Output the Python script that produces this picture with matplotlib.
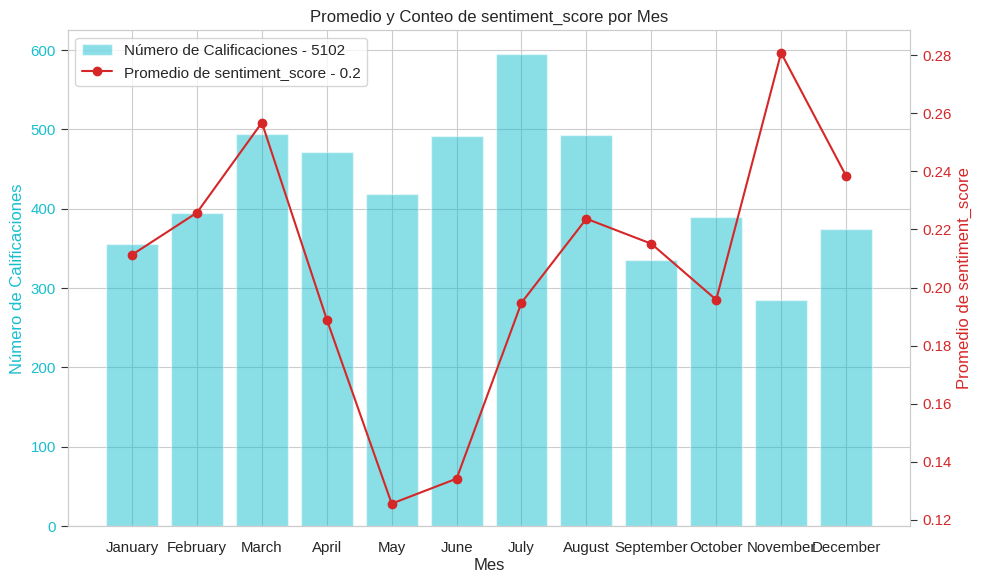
import matplotlib
matplotlib.use('Agg')
import matplotlib.pyplot as plt
import seaborn as sns
import numpy as np

# Data
meses = ['January', 'February', 'March', 'April', 'May', 'June',
         'July', 'August', 'September', 'October', 'November', 'December']
conteo = [356, 395, 494, 472, 419, 492, 595, 493, 336, 390, 285, 375]
promedio = [0.2113, 0.2258, 0.2568, 0.1890, 0.1256, 0.1342,
            0.1948, 0.2237, 0.2151, 0.1958, 0.2808, 0.2385]

sns.set_style('whitegrid')
plt.rcParams['font.family'] = ['Liberation Sans', 'DejaVu Sans']

total = sum(conteo)
media = round(float(np.mean(promedio)), 1)

fig, ax1 = plt.subplots(figsize=(9.83, 5.84), dpi=100)
x = np.arange(len(meses))

color1 = 'tab:cyan'
bars = ax1.bar(x, conteo, color=color1, alpha=0.5,
               label=f'Número de Calificaciones - {total}')
ax1.set_xlabel('Mes', fontsize=12, labelpad=2)
ax1.set_ylabel('Número de Calificaciones', color=color1, fontsize=12)
ax1.tick_params(axis='y', labelcolor=color1, length=5, color='#333333', labelsize=10.8)
ax1.tick_params(axis='x', labelsize=10.8, pad=7)
ax1.set_xticks(x)
ax1.set_xticklabels(meses)

ax2 = ax1.twinx()
color2 = 'tab:red'
line, = ax2.plot(x, promedio, color=color2, marker='o',
                 label=f'Promedio de sentiment_score - {media}')
ax2.set_ylabel('Promedio de sentiment_score', color=color2, fontsize=12)
ax2.tick_params(axis='y', labelcolor=color2, length=5, color='#333333', labelsize=10.8)
ax2.grid(False)

ax2.legend(handles=[bars, line], loc='upper left', fontsize=11)
plt.title('Promedio y Conteo de sentiment_score por Mes', fontsize=12)

fig.subplots_adjust(left=0.069, right=0.926, top=0.948, bottom=0.099)
plt.savefig('out.png', dpi=100)
plt.close()
